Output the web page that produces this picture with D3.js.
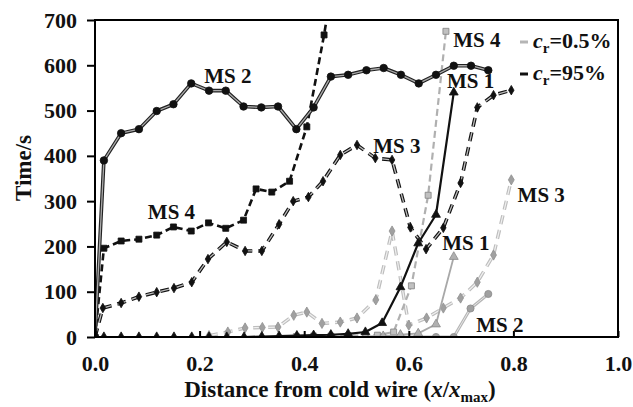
<!DOCTYPE html>
<html>
<head>
<meta charset="utf-8">
<script src="https://cdn.jsdelivr.net/npm/d3@7"></script>
<style>
  body { margin: 0; background: #fff; }
  text { font-family: "Liberation Serif", "Times New Roman", serif; font-weight: bold; }
</style>
</head>
<body>
<svg id="chart" width="633" height="407"></svg>
<script>
// Data: [x/xmax, time in s]
const xTicks = [0, 0.2, 0.4, 0.6, 0.8, 1.0];
const yTicks = [0, 100, 200, 300, 400, 500, 600, 700];

// c_r = 95% (black)
const ms2Hot = [[0,0],[0.017,390],[0.05,450],[0.084,459],[0.118,499],[0.15,514],[0.184,560],[0.218,544],[0.25,544],[0.284,509],[0.318,507],[0.35,509],[0.385,459],[0.418,507],[0.451,575],[0.484,579],[0.519,589],[0.552,594],[0.585,579],[0.619,560],[0.652,579],[0.686,599],[0.719,599],[0.752,589]];
const ms4Hot = [[0,0],[0.017,196],[0.05,212],[0.084,216],[0.118,225],[0.15,243],[0.184,234],[0.217,252],[0.25,240],[0.284,258],[0.308,327],[0.338,320],[0.372,344],[0.405,464],[0.438,667],[0.471,900]];
const ms3Hot = [[0,0],[0.015,64],[0.05,75],[0.084,89],[0.118,99],[0.151,108],[0.185,121],[0.216,172],[0.252,210],[0.287,190],[0.319,190],[0.352,249],[0.379,300],[0.408,309],[0.436,344],[0.469,402],[0.501,424],[0.536,395],[0.568,391],[0.603,242],[0.633,194],[0.666,241],[0.699,340],[0.731,507],[0.762,534],[0.796,545]];
const ms1Hot = [[0,0],[0.017,0],[0.05,0],[0.084,0],[0.118,0],[0.151,0],[0.185,0],[0.218,0],[0.252,0],[0.285,0],[0.319,1],[0.352,2],[0.386,3],[0.418,4],[0.451,5],[0.484,7],[0.517,11],[0.549,31],[0.584,110],[0.618,207],[0.652,270],[0.686,540]];

// c_r = 0.5% (grey)
const ms4Cold = [[0.385,1],[0.418,2],[0.451,2],[0.484,3],[0.517,4],[0.54,4],[0.571,11],[0.605,113],[0.637,313],[0.671,675]];
const ms3Cold = [[0.218,3],[0.254,11],[0.287,20],[0.32,21],[0.35,22],[0.38,48],[0.405,55],[0.434,30],[0.469,33],[0.501,42],[0.537,82],[0.568,234],[0.6,26],[0.634,42],[0.666,64],[0.699,86],[0.731,121],[0.762,181],[0.796,347]];
const ms1Cold = [[0.517,1],[0.551,2],[0.584,5],[0.618,8],[0.652,28],[0.686,177]];
const ms2Cold = [[0.517,0],[0.551,0],[0.584,0],[0.618,0],[0.652,0],[0.686,0],[0.718,63],[0.752,95]];

// series labels [text, x, y]
const labels = [
  ["MS 2", 0.209, 561], ["MS 4", 0.101, 260], ["MS 3", 0.532, 406], ["MS 4", 0.685, 640],
  ["MS 1", 0.673, 549], ["MS 1", 0.664, 192], ["MS 3", 0.808, 298], ["MS 2", 0.729, 11]
];

const svg = d3.select("#chart");
const margin = {top: 20, right: 15, bottom: 70, left: 95};
const W = 633, H = 407;
const x = d3.scaleLinear().domain([0, 1]).range([margin.left, W - margin.right]);
const y = d3.scaleLinear().domain([0, 700]).range([H - margin.bottom, margin.top]);

svg.append("clipPath").attr("id", "clip")
  .append("rect")
  .attr("x", margin.left).attr("y", margin.top)
  .attr("width", x(1) - x(0)).attr("height", y(0) - y(700));

const line = d3.line().x(d => x(d[0])).y(d => y(d[1]));
const plot = svg.append("g").attr("clip-path", "url(#clip)");

function drawLine(data, color, width, dash) {
  plot.append("path").datum(data)
    .attr("fill", "none")
    .attr("stroke", color)
    .attr("stroke-width", width)
    .attr("stroke-dasharray", dash || null)
    .attr("stroke-linejoin", "round")
    .attr("d", line);
}

function drawMarkers(data, type, size, fill, stroke) {
  plot.selectAll(null).data(data).enter().append("path")
    .attr("transform", d => `translate(${x(d[0])},${y(d[1])})`)
    .attr("d", d3.symbol().type(type).size(size))
    .attr("fill", fill)
    .attr("stroke", stroke)
    .attr("stroke-width", 0.8);
}

// grey series (c_r = 0.5%)
drawLine(ms3Cold, "#bdbdbd", 3.5, "9,6");
drawLine(ms3Cold, "#f0f0f0", 1.2, "9,6");
drawMarkers(ms3Cold, d3.symbolDiamond, 30, "#a0a0a0", "#909090");

drawLine(ms4Cold, "#b0b0b0", 2.2, "7,4");
drawMarkers(ms4Cold, d3.symbolSquare, 36, "#c0c0c0", "#808080");

drawLine(ms2Cold, "#b5b5b5", 3, null);
drawLine(ms2Cold, "#e6e6e6", 1, null);
drawMarkers(ms2Cold, d3.symbolCircle, 40, "#a0a0a0", "#8a8a8a");

drawLine(ms1Cold, "#a8a8a8", 1.8, null);
drawMarkers(ms1Cold, d3.symbolTriangle, 34, "#b0b0b0", "#8a8a8a");

// black series (c_r = 95%)
drawLine(ms3Hot, "#111", 3.6, "9,6");
drawLine(ms3Hot, "#bbb", 1.3, "9,6");
drawMarkers(ms3Hot, d3.symbolDiamond, 26, "#111", "#111");

drawLine(ms4Hot, "#111", 2.6, "7,4");
drawMarkers(ms4Hot, d3.symbolSquare, 36, "#111", "#111");

drawLine(ms2Hot, "#222", 3.6, null);
drawLine(ms2Hot, "#aaa", 1.3, null);
drawMarkers(ms2Hot, d3.symbolCircle, 44, "#111", "#111");

drawLine(ms1Hot, "#111", 2.2, null);
drawMarkers(ms1Hot, d3.symbolTriangle, 34, "#111", "#111");

// frame
svg.append("rect")
  .attr("x", x(0)).attr("y", y(700))
  .attr("width", x(1) - x(0)).attr("height", y(0) - y(700))
  .attr("fill", "none").attr("stroke", "#000").attr("stroke-width", 2);

// axes
const xAxis = svg.append("g")
  .attr("transform", `translate(0,${y(0)})`)
  .call(d3.axisBottom(x).tickValues(xTicks).tickFormat(d3.format(".1f")).tickSizeInner(-6).tickSizeOuter(0).tickPadding(18));
const yAxis = svg.append("g")
  .attr("transform", `translate(${x(0)},0)`)
  .call(d3.axisLeft(y).tickValues(yTicks).tickSizeInner(8).tickSizeOuter(0).tickPadding(10));

[xAxis, yAxis].forEach(g => {
  g.select(".domain").remove();
  g.selectAll(".tick line").attr("stroke", "#000").attr("stroke-width", 2);
  g.selectAll(".tick text")
    .attr("font-size", 22)
    .attr("font-family", "Liberation Serif, Times New Roman, serif")
    .attr("font-weight", "bold")
    .attr("fill", "#111");
});

// series labels
svg.selectAll(".lbl").data(labels).enter().append("text")
  .attr("class", "lbl")
  .attr("x", d => x(d[1]))
  .attr("y", d => y(d[2]))
  .attr("font-size", 21)
  .attr("fill", "#111")
  .text(d => d[0]);

// legend
const legend = [
  {label: "=0.5%", color: "#b5b5b5", y: 42},
  {label: "=95%", color: "#111", y: 74}
];
legend.forEach(l => {
  svg.append("line")
    .attr("x1", 520).attr("x2", 528)
    .attr("y1", l.y).attr("y2", l.y)
    .attr("stroke", l.color).attr("stroke-width", 3);
  const t = svg.append("text").attr("x", 533).attr("y", l.y + 6)
    .attr("font-size", 22).attr("fill", "#111");
  t.append("tspan").attr("font-style", "italic").text("c");
  t.append("tspan").attr("font-size", 15).attr("dy", 5).text("r");
  t.append("tspan").attr("dy", -5).text(l.label);
});

// axis titles
const xt = svg.append("text")
  .attr("x", 340).attr("y", 397)
  .attr("text-anchor", "middle")
  .attr("font-size", 23).attr("fill", "#111");
xt.append("tspan").text("Distance from cold wire (");
xt.append("tspan").attr("font-style", "italic").text("x");
xt.append("tspan").text("/");
xt.append("tspan").attr("font-style", "italic").text("x");
xt.append("tspan").attr("font-size", 15).attr("dy", 5).text("max");
xt.append("tspan").attr("dy", -5).text(")");

svg.append("text")
  .attr("transform", "translate(31,168) rotate(-90)")
  .attr("text-anchor", "middle")
  .attr("font-size", 23).attr("fill", "#111")
  .text("Time/s");
</script>
</body>
</html>
